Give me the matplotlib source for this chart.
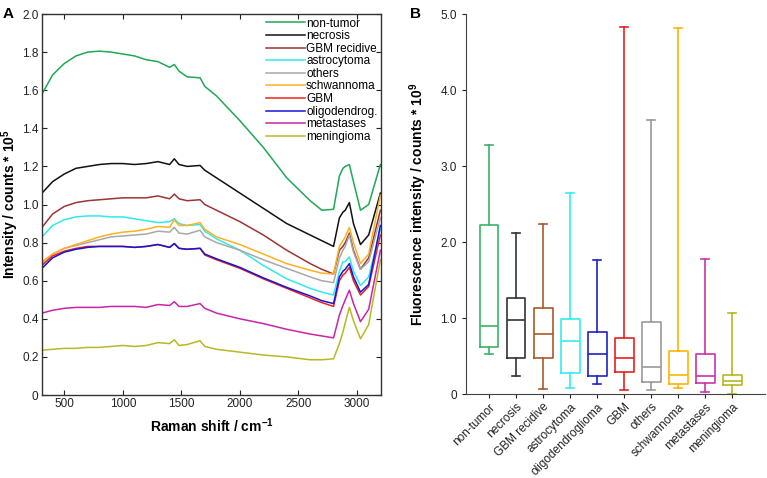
import matplotlib
matplotlib.use("Agg")
import matplotlib.pyplot as plt

plt.rcParams['font.family'] = ['Liberation Sans', 'DejaVu Sans']
plt.rcParams['mathtext.fontset'] = 'custom'
plt.rcParams['mathtext.rm'] = 'Liberation Sans'
plt.rcParams['mathtext.bf'] = 'Liberation Sans:bold'

# ---- panel A: mean spectra (Raman shift, intensity * 1e5)
shift = [310, 400, 500, 600, 700, 800, 900, 1000, 1100, 1200, 1300, 1400, 1440, 1480,
         1550, 1660, 1700, 1800, 2000, 2200, 2400, 2600, 2700, 2800, 2850, 2880, 2900,
         2935, 2970, 3030, 3100, 3200]

non_tumor = [1.58, 1.68, 1.74, 1.78, 1.80, 1.805, 1.80, 1.79, 1.78, 1.76, 1.75, 1.72, 1.735, 1.70,
             1.67, 1.665, 1.62, 1.57, 1.44, 1.30, 1.14, 1.02, 0.97, 0.975, 1.15, 1.19, 1.20,
             1.21, 1.12, 0.97, 1.00, 1.21]
necrosis = [1.06, 1.12, 1.16, 1.19, 1.20, 1.21, 1.215, 1.215, 1.21, 1.215, 1.225, 1.21, 1.24, 1.21,
            1.20, 1.205, 1.18, 1.14, 1.06, 0.98, 0.90, 0.84, 0.81, 0.78, 0.93, 0.96, 0.97,
            1.01, 0.90, 0.79, 0.84, 1.06]
gbm_recidive = [0.88, 0.95, 0.99, 1.01, 1.02, 1.025, 1.03, 1.035, 1.035, 1.035, 1.045, 1.03, 1.055, 1.03,
                1.02, 1.025, 1.00, 0.97, 0.91, 0.84, 0.76, 0.69, 0.66, 0.635, 0.76, 0.78, 0.80,
                0.85, 0.76, 0.66, 0.72, 0.97]
astrocytoma = [0.83, 0.89, 0.92, 0.935, 0.94, 0.94, 0.935, 0.935, 0.925, 0.915, 0.905, 0.91, 0.925, 0.90,
               0.89, 0.895, 0.86, 0.82, 0.76, 0.68, 0.61, 0.56, 0.54, 0.525, 0.65, 0.70, 0.70,
               0.725, 0.65, 0.575, 0.62, 0.87]
others = [0.69, 0.74, 0.77, 0.785, 0.80, 0.815, 0.83, 0.835, 0.84, 0.845, 0.86, 0.855, 0.88, 0.85,
          0.845, 0.865, 0.83, 0.80, 0.76, 0.71, 0.665, 0.62, 0.60, 0.59, 0.72, 0.76, 0.78,
          0.84, 0.75, 0.66, 0.70, 0.93]
schwannoma = [0.70, 0.74, 0.77, 0.79, 0.81, 0.83, 0.845, 0.855, 0.86, 0.87, 0.885, 0.88, 0.92, 0.89,
              0.89, 0.905, 0.87, 0.83, 0.79, 0.74, 0.69, 0.655, 0.64, 0.635, 0.78, 0.81, 0.83,
              0.88, 0.80, 0.69, 0.74, 1.05]
gbm = [0.68, 0.73, 0.755, 0.77, 0.78, 0.78, 0.78, 0.78, 0.775, 0.78, 0.79, 0.775, 0.795, 0.77,
       0.765, 0.77, 0.735, 0.71, 0.665, 0.61, 0.56, 0.51, 0.485, 0.465, 0.60, 0.63, 0.64,
       0.67, 0.60, 0.525, 0.57, 0.84]
oligodendrog = [0.665, 0.72, 0.75, 0.765, 0.775, 0.78, 0.78, 0.78, 0.775, 0.78, 0.79, 0.775, 0.795, 0.77,
                0.765, 0.77, 0.74, 0.715, 0.67, 0.615, 0.565, 0.52, 0.495, 0.48, 0.62, 0.65, 0.66,
                0.69, 0.62, 0.54, 0.58, 0.89]
metastases = [0.43, 0.445, 0.455, 0.46, 0.46, 0.46, 0.465, 0.465, 0.465, 0.46, 0.475, 0.47, 0.49, 0.465,
              0.465, 0.48, 0.455, 0.43, 0.40, 0.375, 0.345, 0.32, 0.31, 0.30, 0.42, 0.47, 0.50,
              0.55, 0.48, 0.385, 0.45, 0.76]
meningioma = [0.235, 0.24, 0.245, 0.245, 0.25, 0.25, 0.255, 0.26, 0.255, 0.26, 0.275, 0.27, 0.29, 0.26,
              0.265, 0.285, 0.255, 0.24, 0.225, 0.21, 0.20, 0.185, 0.185, 0.19, 0.27, 0.33, 0.38,
              0.46, 0.39, 0.295, 0.37, 0.71]

spectra_labels = ["non-tumor", "necrosis", "GBM recidive", "astrocytoma", "others",
                  "schwannoma", "GBM", "oligodendrog.", "metastases", "meningioma"]
spectra = [non_tumor, necrosis, gbm_recidive, astrocytoma, others,
           schwannoma, gbm, oligodendrog, metastases, meningioma]
spectra_colors = ["#1fa855", "#111111", "#9a3535", "#30eaf0", "#a8a8a8",
                  "#ffb020", "#f02020", "#1515d8", "#c825a8", "#b8b825"]

# ---- panel B: box plot stats (fluorescence * 1e9)
groups = ["non-tumor", "necrosis", "GBM recidive", "astrocytoma", "oligodendroglioma",
          "GBM", "others", "schwannoma", "metastases", "meningioma"]
whisk_lo = [0.52, 0.24, 0.07, 0.08, 0.13, 0.05, 0.05, 0.08, 0.03, 0.00]
q1 = [0.62, 0.47, 0.47, 0.28, 0.24, 0.29, 0.16, 0.13, 0.15, 0.12]
median = [0.90, 0.97, 0.79, 0.70, 0.53, 0.47, 0.36, 0.25, 0.24, 0.17]
q3 = [2.22, 1.26, 1.13, 0.99, 0.82, 0.74, 0.95, 0.57, 0.53, 0.25]
whisk_hi = [3.27, 2.12, 2.24, 2.65, 1.76, 4.83, 3.61, 4.82, 1.77, 1.07]
box_colors = ["#3cb36a", "#333333", "#a85a2a", "#33eef2", "#2020cc",
              "#e82020", "#999999", "#ffb400", "#cc33aa", "#b8b820"]

fig = plt.figure(figsize=(7.67, 4.78), dpi=100)

# panel A
axA = fig.add_axes([0.0548, 0.1736, 0.4419, 0.7971])
for ys, lab, col in zip(spectra, spectra_labels, spectra_colors):
    axA.plot(shift, ys, color=col, linewidth=1.1, label=lab)
axA.set_xlim(310, 3205)
axA.set_ylim(0, 2.0)
axA.set_xticks([500, 1000, 1500, 2000, 2500, 3000])
axA.set_yticks([0, 0.2, 0.4, 0.6, 0.8, 1.0, 1.2, 1.4, 1.6, 1.8, 2.0])
axA.set_yticklabels(["0", "0.2", "0.4", "0.6", "0.8", "1.0", "1.2", "1.4", "1.6", "1.8", "2.0"])
axA.tick_params(direction="in", top=True, right=True, labelsize=8.5, length=3.5, pad=2.5,
                colors="#222222")
for s in axA.spines.values():
    s.set_color("#333333")
    s.set_linewidth(1.0)
axA.set_xlabel(r"Raman shift / cm$^{\mathbf{-1}}$", fontsize=10, fontweight="bold", labelpad=4)
axA.set_ylabel(r"Intensity / counts * 10$^{\mathbf{5}}$", fontsize=10, fontweight="bold", labelpad=1)
axA.legend(loc="upper right", frameon=False, fontsize=8.5, handlelength=3.3, handletextpad=0.1,
           labelspacing=0.05, borderaxespad=0.1, borderpad=0.2)

# panel B
axB = fig.add_axes([0.6076, 0.1757, 0.3894, 0.795])
stats = []
for i, g in enumerate(groups):
    stats.append({"label": g, "whislo": whisk_lo[i], "q1": q1[i], "med": median[i],
                  "q3": q3[i], "whishi": whisk_hi[i]})
bp = axB.bxp(stats, positions=range(1, len(groups) + 1), widths=0.7, showfliers=False,
             capwidths=0.3, patch_artist=False)
for i, col in enumerate(box_colors):
    bp["boxes"][i].set(color=col, linewidth=1.2)
    bp["medians"][i].set(color=col, linewidth=1.2)
    for w in bp["whiskers"][2 * i:2 * i + 2]:
        w.set(color=col, linewidth=1.2)
    for c in bp["caps"][2 * i:2 * i + 2]:
        c.set(color=col, linewidth=1.2)
axB.set_xlim(0.15, 11.2)
axB.set_ylim(0, 5.0)
axB.set_yticks([0, 1, 2, 3, 4, 5])
axB.set_yticklabels(["0", "1.0", "2.0", "3.0", "4.0", "5.0"])
axB.set_xticks(range(1, len(groups) + 1))
axB.set_xticklabels(groups, rotation=45, ha="right", rotation_mode="anchor")
axB.tick_params(direction="out", labelsize=8.5, length=3, colors="#222222")
axB.tick_params(axis="x", pad=2)
axB.spines["top"].set_visible(False)
axB.spines["right"].set_visible(False)
axB.spines["left"].set_color("#444444")
axB.spines["bottom"].set_color("#444444")
axB.set_ylabel(r"Fluorescence intensity / counts * 10$^{\mathbf{9}}$", fontsize=10,
               fontweight="bold", labelpad=8)

fig.text(0.003, 0.985, "A", fontsize=11, fontweight="bold", va="top")
fig.text(0.535, 0.985, "B", fontsize=11, fontweight="bold", va="top")

fig.savefig("out.png", dpi=100)
